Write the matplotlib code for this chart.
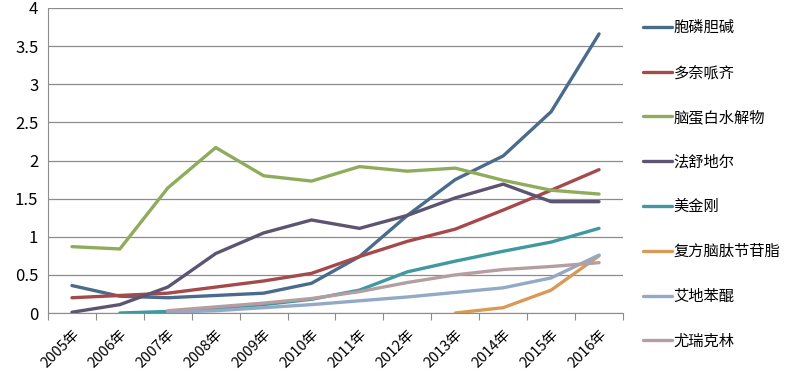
import matplotlib

matplotlib.use("Agg")
import matplotlib.pyplot as plt
import numpy as np

plt.rcParams["font.family"] = ["Noto Sans CJK SC", "DejaVu Sans"]

years = ["2005年", "2006年", "2007年", "2008年", "2009年", "2010年",
         "2011年", "2012年", "2013年", "2014年", "2015年", "2016年"]

names = ["胞磷胆碱", "多奈哌齐", "脑蛋白水解物", "法舒地尔",
         "美金刚", "复方脑肽节苷脂", "艾地苯醌", "尤瑞克林"]

nan = np.nan
citicoline = [0.36, 0.22, 0.20, 0.23, 0.26, 0.39, 0.74, 1.28, 1.75, 2.06, 2.64, 3.66]
donepezil = [0.20, 0.23, 0.26, 0.34, 0.42, 0.52, 0.74, 0.94, 1.10, 1.35, 1.61, 1.88]
cerebrolysin = [0.87, 0.84, 1.64, 2.17, 1.80, 1.73, 1.92, 1.86, 1.90, 1.74, 1.61, 1.56]
fasudil = [0.01, 0.11, 0.34, 0.78, 1.05, 1.22, 1.11, 1.28, 1.51, 1.69, 1.46, 1.46]
memantine = [nan, 0.00, 0.02, 0.06, 0.11, 0.18, 0.30, 0.54, 0.68, 0.81, 0.93, 1.11]
gangliosides = [nan, nan, nan, nan, nan, nan, nan, nan, 0.00, 0.07, 0.30, 0.75]
idebenone = [nan, nan, 0.01, 0.03, 0.07, 0.11, 0.16, 0.21, 0.27, 0.33, 0.46, 0.76]
urinary_kallidinogenase = [nan, nan, 0.03, 0.08, 0.13, 0.19, 0.28, 0.40, 0.50, 0.57, 0.61, 0.66]

series = [citicoline, donepezil, cerebrolysin, fasudil,
          memantine, gangliosides, idebenone, urinary_kallidinogenase]
colors = ["#4a6b8c", "#a5494a", "#8fac5c", "#5d5472",
          "#3f999e", "#d99a58", "#93a9c6", "#b59ea2"]

fig = plt.figure(figsize=(7.91, 3.81), dpi=100)
ax = fig.add_axes([48 / 791, 1 - 313 / 381, 575 / 791, 305 / 381])

x = np.arange(len(years))
for vals, name, c in zip(series, names, colors):
    ax.plot(x, vals, color=c, lw=2.4, label=name, solid_capstyle="round")

ax.set_xlim(-0.5, len(years) - 0.5)
ax.set_ylim(0, 4)
ax.set_yticks(np.arange(0, 4.01, 0.5))
ax.set_yticklabels(["0", "0.5", "1", "1.5", "2", "2.5", "3", "3.5", "4"], fontsize=12)
ax.yaxis.grid(True, color="#8c8c8c", lw=0.9)
ax.set_axisbelow(True)
ax.tick_params(axis="y", length=0, pad=7)

# category boundary ticks on the x axis
ax.set_xticks(np.arange(-0.5, len(years), 1.0))
ax.set_xticklabels([])
ax.tick_params(axis="x", which="major", length=5, color="#8c8c8c", direction="out")
ax.set_xticks(x, minor=True)
ax.set_xticklabels(years, minor=True, rotation=45, ha="right", va="top",
                   rotation_mode="anchor", fontsize=10.5)
ax.tick_params(axis="x", which="minor", length=0, pad=10)

for s in ["top", "right"]:
    ax.spines[s].set_visible(False)
for s in ["left", "bottom"]:
    ax.spines[s].set_color("#8c8c8c")

leg = ax.legend(loc="upper left", bbox_to_anchor=(637 / 791, 1 - 13 / 381),
                bbox_transform=fig.transFigure, frameon=False, fontsize=11,
                handlelength=1.9, handletextpad=0.1, labelspacing=1.82,
                borderaxespad=0)

fig.savefig("out.png", dpi=100)
